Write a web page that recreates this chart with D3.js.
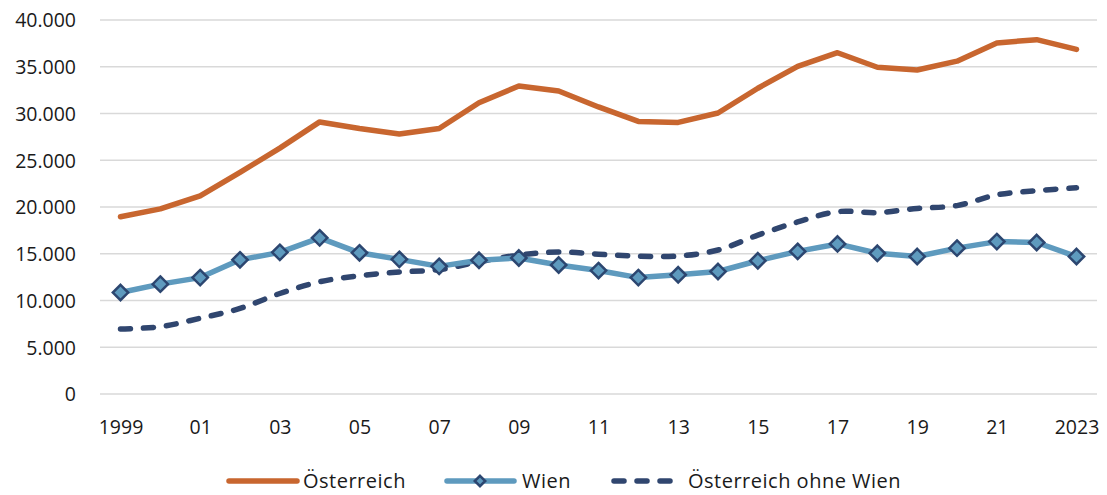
<!DOCTYPE html>
<html>
<head>
<meta charset="utf-8">
<script src="https://cdn.jsdelivr.net/npm/d3@7"></script>
<style>
html,body{margin:0;padding:0;background:#fff;}
text{font-family:"Open Sans","Noto Sans",sans-serif;fill:#1a1a1a;}
</style>
</head>
<body>
<svg id="chart" width="1107" height="495"></svg>
<script>
const years = [1999,2000,2001,2002,2003,2004,2005,2006,2007,2008,2009,2010,2011,2012,2013,2014,2015,2016,2017,2018,2019,2020,2021,2022,2023];
const oesterreich = [18950,19800,21200,23700,26300,29100,28400,27800,28400,31150,32950,32400,30700,29150,29050,30050,32700,35050,36500,34950,34650,35600,37550,37900,36850];
const wien = [10850,11750,12450,14350,15150,16700,15100,14400,13650,14300,14550,13800,13200,12450,12750,13100,14250,15250,16050,15050,14700,15600,16300,16200,14700];
const ohneWien = [6950,7200,8100,9150,10750,12000,12650,13050,13300,14150,14850,15200,14950,14750,14750,15400,17000,18400,19500,19400,19850,20150,21300,21750,22050];
const yTicks = [0,5000,10000,15000,20000,25000,30000,35000,40000];
const xTickYears = [1999,2001,2003,2005,2007,2009,2011,2013,2015,2017,2019,2021,2023];
const xTickLabels = ["1999","01","03","05","07","09","11","13","15","17","19","21","2023"];
const seriesNames = ["Österreich","Wien","Österreich ohne Wien"];

const colOe = "#C8662F", colWien = "#5E9ABE", colMarkerStroke = "#2C4670", colDash = "#30466F";

const svg = d3.select("#chart");
const plotLeft = 100, plotRight = 1097, plotTop = 20, plotBottom = 394;

const x = d3.scaleLinear().domain([1999,2023]).range([120.5,1076.5]);
const y = d3.scaleLinear().domain([0,40000]).range([plotBottom,plotTop]);

const fmt = v => d3.format(",")(v).replace(/,/g,".");

// gridlines
svg.append("g").selectAll("line").data(yTicks).join("line")
  .attr("x1",plotLeft).attr("x2",plotRight)
  .attr("y1",d=>y(d)).attr("y2",d=>y(d))
  .attr("stroke","#D9D9D9").attr("stroke-width",1.5);

// y axis labels
const yAxis = d3.axisLeft(y).tickValues(yTicks).tickFormat(fmt).tickSize(0).tickPadding(0);
const gy = svg.append("g").attr("transform","translate(76,0)").call(yAxis);
gy.select(".domain").remove();
gy.selectAll("text").attr("font-size",19.5).attr("fill","#1a1a1a").attr("dy","0.35em")
  .style("font-family",'"Open Sans","Noto Sans",sans-serif');

// x axis labels
const xAxis = d3.axisBottom(x).tickValues(xTickYears).tickFormat((d,i)=>xTickLabels[i]).tickSize(0).tickPadding(0);
const gx = svg.append("g").attr("transform","translate(0,420)").call(xAxis);
gx.select(".domain").remove();
gx.selectAll("text").attr("font-size",19.5).attr("fill","#1a1a1a").attr("dy","0.71em")
  .style("font-family",'"Open Sans","Noto Sans",sans-serif');

// dashed series
const lineSmooth = d3.line().x((d,i)=>x(years[i])).y(d=>y(d)).curve(d3.curveCatmullRom.alpha(0.5));
const lineStraight = d3.line().x((d,i)=>x(years[i])).y(d=>y(d));

svg.append("path").datum(ohneWien).attr("d",lineSmooth)
  .attr("fill","none").attr("stroke",colDash).attr("stroke-width",5.5)
  .attr("stroke-linecap","round").attr("stroke-dasharray","10,13");

// Wien
svg.append("path").datum(wien).attr("d",lineStraight)
  .attr("fill","none").attr("stroke",colWien).attr("stroke-width",5.5).attr("stroke-linejoin","round");
const diamond = d3.symbol().type(d3.symbolDiamond2).size(150);
svg.append("g").selectAll("path").data(wien).join("path")
  .attr("d",diamond)
  .attr("transform",(d,i)=>`translate(${x(years[i])},${y(d)})`)
  .attr("fill",colWien).attr("stroke",colMarkerStroke).attr("stroke-width",2.5);

// Österreich
svg.append("path").datum(oesterreich).attr("d",lineStraight)
  .attr("fill","none").attr("stroke",colOe).attr("stroke-width",5.5)
  .attr("stroke-linejoin","round").attr("stroke-linecap","round");

// legend
const lg = svg.append("g");
const ly = 481;
const lfs = 20, lls = "0.5px";
// Österreich
lg.append("line").attr("x1",229).attr("x2",297).attr("y1",ly).attr("y2",ly)
  .attr("stroke",colOe).attr("stroke-width",5.5).attr("stroke-linecap","round");
lg.append("text").attr("x",303).attr("y",ly).attr("dy","0.35em").attr("font-size",lfs).attr("letter-spacing",lls).text(seriesNames[0]);
// Wien
lg.append("line").attr("x1",447).attr("x2",514).attr("y1",ly).attr("y2",ly)
  .attr("stroke",colWien).attr("stroke-width",5.5).attr("stroke-linecap","round");
lg.append("path").attr("d",d3.symbol().type(d3.symbolDiamond2).size(70)).attr("transform",`translate(480,${ly})`)
  .attr("fill",colWien).attr("stroke",colMarkerStroke).attr("stroke-width",2.5);
lg.append("text").attr("x",522).attr("y",ly).attr("dy","0.35em").attr("font-size",lfs).attr("letter-spacing",lls).text(seriesNames[1]);
// ohne Wien
lg.append("line").attr("x1",614).attr("x2",682).attr("y1",ly).attr("y2",ly)
  .attr("stroke",colDash).attr("stroke-width",5.5).attr("stroke-linecap","round").attr("stroke-dasharray","10,13");
lg.append("text").attr("x",688).attr("y",ly).attr("dy","0.35em").attr("font-size",lfs).attr("letter-spacing",lls).text(seriesNames[2]);
</script>
</body>
</html>
